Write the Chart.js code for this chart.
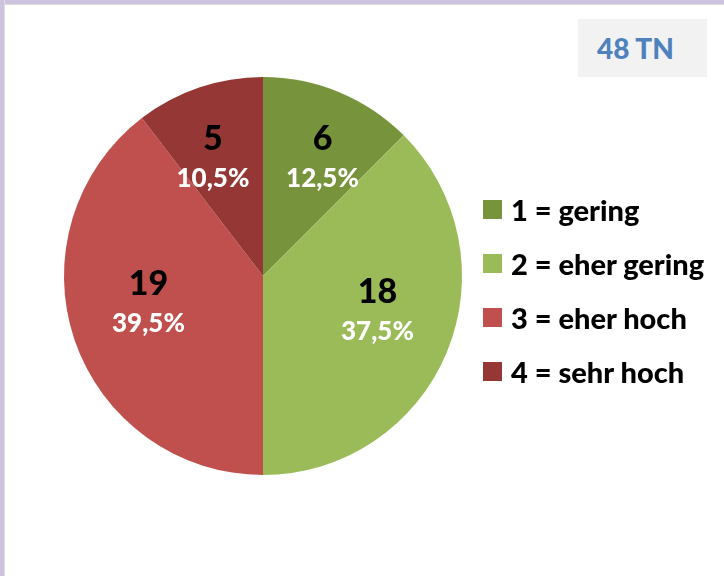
<!DOCTYPE html>
<html>
<head>
<meta charset="utf-8">
<script src="https://cdn.jsdelivr.net/npm/chart.js@4/dist/chart.umd.min.js"></script>
<style>
  html, body { margin: 0; padding: 0; background: #fff; }
  #page { position: relative; width: 724px; height: 576px; overflow: hidden; background: #fff; }
  #bordTop { position: absolute; left: 0; top: 0; width: 724px; height: 4px; background: #cdc3de; border-bottom: 1px solid #dcdcdc; }
  #bordLeft { position: absolute; left: 0; top: 0; width: 4px; height: 576px; background: #cdc3de; border-right: 1px solid #dcdcdc; }
  canvas { position: absolute; left: 0; top: 0; }
  #tn { position: absolute; left: 578px; top: 19px; width: 115px; padding-right: 14px; height: 58px; background: #f2f2f2;
        color: #4f81bd; font: 900 28px Lato, "Open Sans", sans-serif; text-align: center; line-height: 58px; }
  #legend { position: absolute; left: 483px; top: 182px; font: 900 29px Lato, "Open Sans", sans-serif; color: #000; }
  .row { height: 54px; display: flex; align-items: center; white-space: nowrap; }
  .sw { width: 19px; height: 19px; margin-right: 9px; flex: none; }
</style>
</head>
<body>
<div id="page">
  <canvas id="c" width="724" height="576"></canvas>
  <div id="bordTop"></div>
  <div id="bordLeft"></div>
  <div id="tn"></div>
  <div id="legend"></div>
</div>
<script>
const categories = ["1 = gering", "2 = eher gering", "3 = eher hoch", "4 = sehr hoch"];
const counts = [6, 18, 19, 5];
const percentLabels = ["12,5%", "37,5%", "39,5%", "10,5%"];
const colors = ["#77933c", "#9bbb59", "#c0504d", "#953735"];
const totalLabel = "48 TN";
// label placement: fraction of radius and angle shift (degrees) from slice middle
const labelRadius = [0.67, 0.60, 0.59, 0.65];
const labelAngleShift = [4, -6, 6, -4];

document.getElementById('tn').textContent = totalLabel;
const leg = document.getElementById('legend');
categories.forEach((c, i) => {
  const r = document.createElement('div'); r.className = 'row';
  const s = document.createElement('div'); s.className = 'sw'; s.style.background = colors[i];
  const t = document.createElement('span'); t.textContent = c;
  r.appendChild(s); r.appendChild(t); leg.appendChild(r);
});

const labelPlugin = {
  id: 'sliceLabels',
  afterDatasetsDraw(chart) {
    const ctx = chart.ctx;
    const meta = chart.getDatasetMeta(0);
    meta.data.forEach((arc, i) => {
      const mid = (arc.startAngle + arc.endAngle) / 2 + labelAngleShift[i] * Math.PI / 180;
      const r = arc.outerRadius * labelRadius[i];
      const x = arc.x + Math.cos(mid) * r;
      const y = arc.y + Math.sin(mid) * r;
      ctx.save();
      ctx.textAlign = 'center';
      ctx.textBaseline = 'middle';
      ctx.fillStyle = '#000';
      ctx.font = '900 34px Lato, "Open Sans", sans-serif';
      ctx.fillText(String(counts[i]), x, y - 18);
      ctx.fillStyle = '#fff';
      ctx.font = '900 26px Lato, "Open Sans", sans-serif';
      ctx.fillText(percentLabels[i], x, y + 22);
      ctx.restore();
    });
  }
};

new Chart(document.getElementById('c'), {
  type: 'pie',
  data: {
    labels: categories,
    datasets: [{ data: counts, backgroundColor: colors, borderWidth: 0 }]
  },
  options: {
    responsive: false,
    animation: false,
    layout: { padding: { left: 64, top: 77, right: 262, bottom: 101 } },
    plugins: { legend: { display: false }, tooltip: { enabled: false } }
  },
  plugins: [labelPlugin]
});
</script>
</body>
</html>
